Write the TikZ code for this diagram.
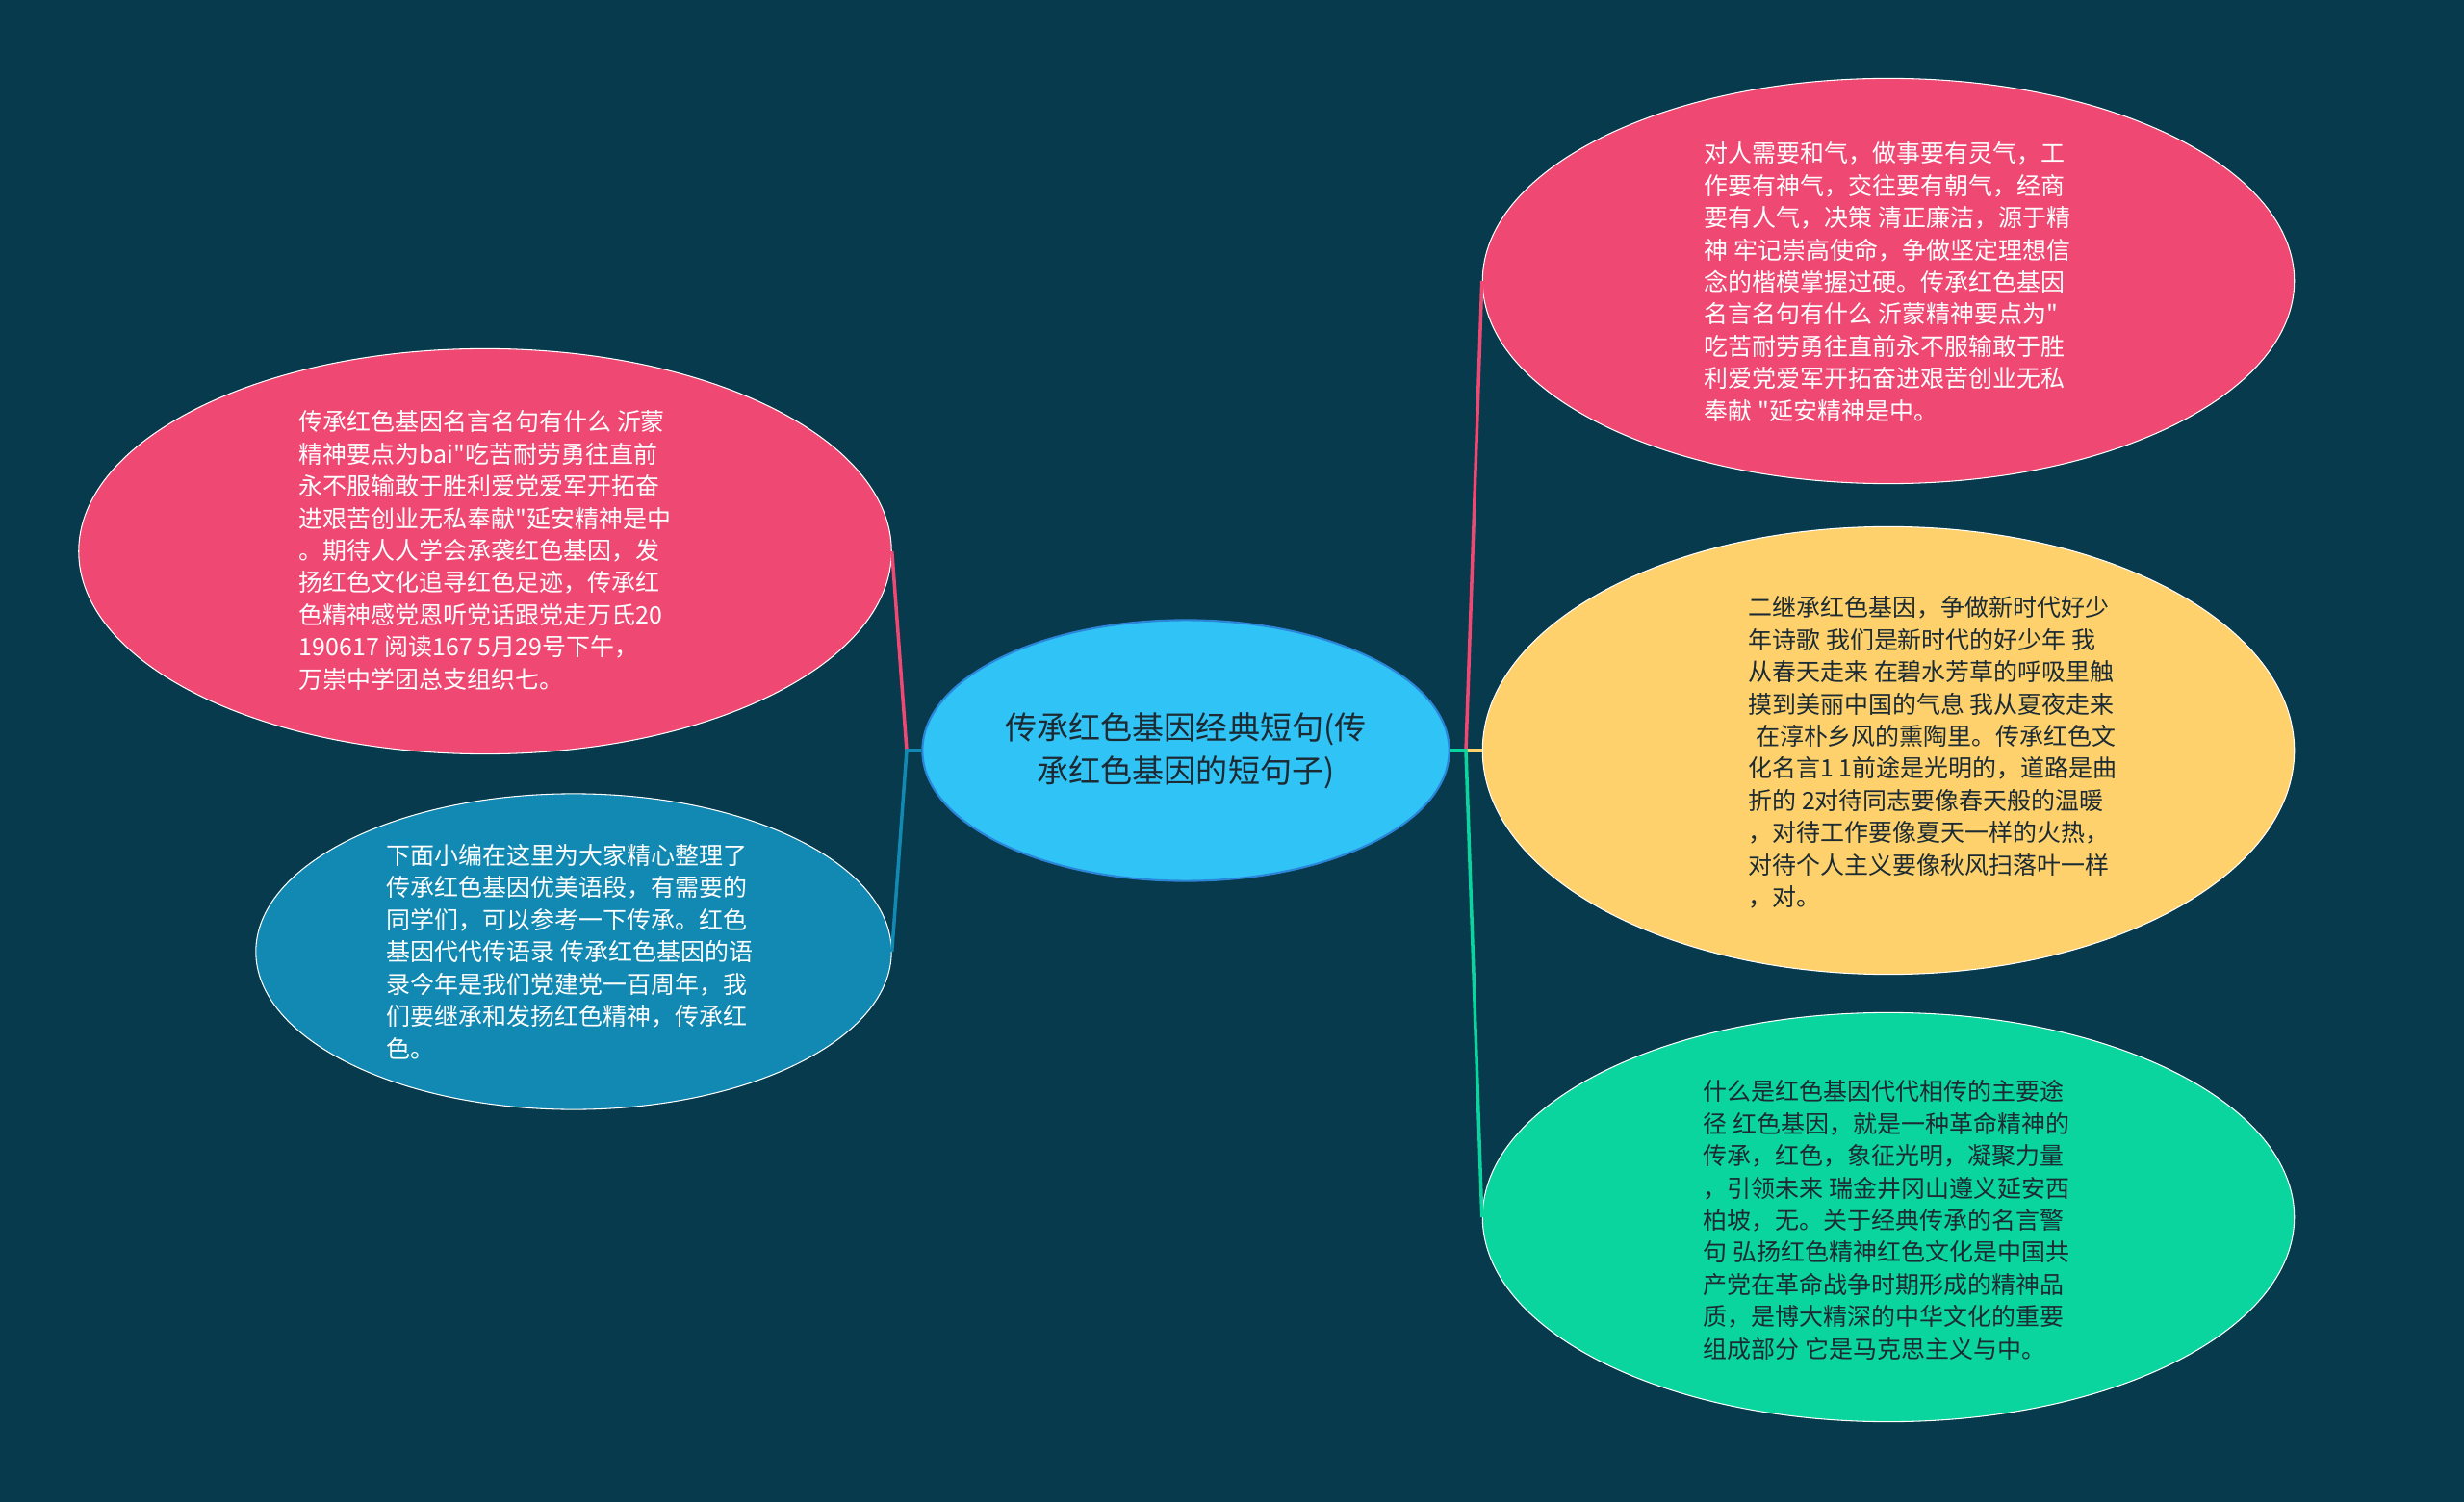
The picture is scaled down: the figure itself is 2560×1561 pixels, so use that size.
\documentclass[tikz,border=0pt]{standalone}
\usepackage{fontspec}
\setmainfont{Noto Sans CJK SC}[Ligatures=TeXOff]
\usetikzlibrary{shapes.geometric}
\definecolor{mapbg}{HTML}{073A4C}
\definecolor{mappink}{HTML}{EF4872}
\definecolor{mapyellow}{HTML}{FED16C}
\definecolor{mapgreen}{HTML}{0AD59F}
\definecolor{mapblue}{HTML}{1189B2}
\definecolor{mapsky}{HTML}{30C3F6}
\definecolor{mapedge}{HTML}{2B86DA}
\definecolor{mapink}{HTML}{1C2B33}
\tikzset{
  hubb/.style={ellipse, draw=mapedge, line width=0.6pt, fill=mapsky, inner sep=0pt,
    minimum width=5.47cm, minimum height=2.71cm, align=center, text=mapink,
    font=\fontsize{9.4}{12.8}\selectfont},
  leafb/.style={ellipse, draw=white, line width=0.3pt, inner sep=0pt,
    minimum width=8.43cm, minimum height=4.21cm},
  leaft/.style={align=left, inner sep=0pt, text=white,
    font=\fontsize{7.1}{9.5}\selectfont},
  branch/.style={line width=1pt},
}
\begin{document}
\begin{tikzpicture}[x=0.01cm, y=-0.01cm]
  \fill[mapbg] (0,0) rectangle (2560,1561);
  \useasboundingbox (0,0) rectangle (2560,1561);
  \node[hubb] (hub) at (1232,780) {传承红色基因经典短句(传\\承红色基因的短句子)};
  % left side
  \node[leafb, fill=mappink, minimum width=8.44cm] (lt) at (504,573) {};
  \node[leaft] (ltt) at (504,572) {传承红色基因名言名句有什么 沂蒙\\精神要点为bai"吃苦耐劳勇往直前\\永不服输敢于胜利爱党爱军开拓奋\\进艰苦创业无私奉献"延安精神是中\\。期待人人学会承袭红色基因，发\\扬红色文化追寻红色足迹，传承红\\色精神感党恩听党话跟党走万氏20\\190617 阅读167 5月29号下午，\\万崇中学团总支组织七。};
  \node[leafb, fill=mapblue, minimum width=6.6cm, minimum height=3.28cm] (lb) at (596,989) {};
  \node[leaft] (lbt) at (592,989) {下面小编在这里为大家精心整理了\\传承红色基因优美语段，有需要的\\同学们，可以参考一下传承。红色\\基因代代传语录 传承红色基因的语\\录今年是我们党建党一百周年，我\\们要继承和发扬红色精神，传承红\\色。};
  % right side
  \node[leafb, fill=mappink] (rt) at (1962,292) {};
  \node[leaft] (rtt) at (1961,293) {对人需要和气，做事要有灵气，工\\作要有神气，交往要有朝气，经商\\要有人气，决策 清正廉洁，源于精\\神 牢记崇高使命，争做坚定理想信\\念的楷模掌握过硬。传承红色基因\\名言名句有什么 沂蒙精神要点为"\\吃苦耐劳勇往直前永不服输敢于胜\\利爱党爱军开拓奋进艰苦创业无私\\奉献 "延安精神是中。};
  \node[leafb, fill=mapyellow, minimum height=4.65cm] (rm) at (1962,780) {};
  \node[leaft, text=mapink] (rmt) at (2008,782) {二继承红色基因，争做新时代好少\\年诗歌 我们是新时代的好少年 我\\从春天走来 在碧水芳草的呼吸里触\\摸到美丽中国的气息 我从夏夜走来\\\hspace*{0.3em}在淳朴乡风的熏陶里。传承红色文\\化名言1 1前途是光明的，道路是曲\\折的 2对待同志要像春天般的温暖\\，对待工作要像夏天一样的火热，\\对待个人主义要像秋风扫落叶一样\\，对。};
  \node[leafb, fill=mapgreen, minimum height=4.25cm] (rb) at (1962,1265) {};
  \node[leaft, text=mapink] (rbt) at (1960,1268) {什么是红色基因代代相传的主要途\\径 红色基因，就是一种革命精神的\\传承，红色，象征光明，凝聚力量\\，引领未来 瑞金井冈山遵义延安西\\柏坡，无。关于经典传承的名言警\\句 弘扬红色精神红色文化是中国共\\产党在革命战争时期形成的精神品\\质，是博大精深的中华文化的重要\\组成部分 它是马克思主义与中。};
  % connectors
  \coordinate (jl) at (942,780);
  \coordinate (jr) at (1523,780);
  \draw[branch, mappink] (jl) -- (lt.east);
  \draw[branch, mapblue] (hub.west) -- (jl) -- (lb.east);
  \draw[branch, mappink] (jr) -- (rt.west);
  \draw[branch, mapyellow] (jr) -- (rm.west);
  \draw[branch, mapgreen] (hub.east) -- (jr) -- (rb.west);
\end{tikzpicture}
\end{document}
